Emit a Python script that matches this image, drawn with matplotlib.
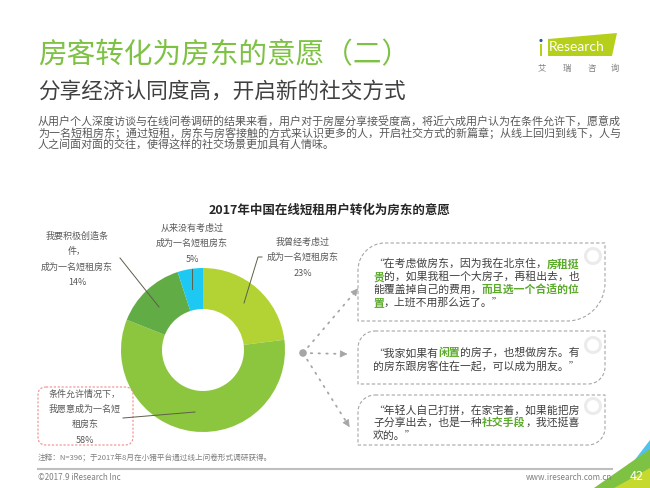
import matplotlib

matplotlib.use("Agg")
import matplotlib.pyplot as plt
from matplotlib.patches import Circle, FancyBboxPatch, PathPatch, Polygon
from matplotlib.path import Path

plt.rcParams["font.family"] = ["Noto Sans CJK SC", "DejaVu Sans"]

W, H = 650, 488

# ---- texts / data
title = "房客转化为房东的意愿（二）"
subtitle = "分享经济认同度高，开启新的社交方式"
intro_lines = [
    "从用户个人深度访谈与在线问卷调研的结果来看，用户对于房屋分享接受度高，将近六成用户认为在条件允许下，愿意成",
    "为一名短租房东；通过短租，房东与房客接触的方式来认识更多的人，开启社交方式的新篇章；从线上回归到线下，人与",
    "人之间面对面的交往，使得这样的社交场景更加具有人情味。",
]
chart_title = "2017年中国在线短租用户转化为房东的意愿"

slice_labels = [
    "我曾经考虑过\n成为一名短租房东",
    "条件允许情况下，\n我愿意成为一名短\n租房东",
    "我要积极创造条\n件，\n成为一名短租房东",
    "从来没有考虑过\n成为一名短租房东",
]
slice_shares = [23, 58, 14, 5]
slice_colors = ["#B3D335", "#8CC63F", "#62AC45", "#1DC8F2"]

# (text, highlighted)
quotes = [
    [
        [("“在考虑做房东，因为我在北京住，", False), ("房租挺", True)],
        [("贵", True), ("的，如果我租一个大房子，再租出去，也", False)],
        [("能覆盖掉自己的费用，", False), ("而且选一个合适的位", True)],
        [("置", True), ("，上班不用那么远了。”", False)],
    ],
    [
        [("“我家如果有", False), ("闲置", True), ("的房子，也想做房东。有", False)],
        [("的房东跟房客住在一起，可以成为朋友。”", False)],
    ],
    [
        [("“年轻人自己打拼，在家宅着，如果能把房", False)],
        [("子分享出去，也是一种", False), ("社交手段", True), ("，我还挺喜", False)],
        [("欢的。”", False)],
    ],
]

note = "注释：N=396；于2017年8月在小猪平台通过线上问卷形式调研获得。"
copyright_txt = "©2017.9 iResearch Inc"
site_txt = "www.iresearch.com.cn"
page_no = "42"

GREEN = "#7DC243"
HI = "#5BAA2C"
TXT = "#404040"
GREY = "#595959"

fig = plt.figure(figsize=(W / 100, H / 100), dpi=100)
bg = fig.add_axes([0, 0, 1, 1])
bg.set_xlim(0, W)
bg.set_ylim(H, 0)
bg.axis("off")
bg.set_zorder(2)

# donut
cx, cy, r = 203, 350, 82
pie_ax = fig.add_axes([(cx - r) / W, 1 - (cy + r) / H, 2 * r / W, 2 * r / H])
pie_ax.set_zorder(1)
pie_ax.pie(
    slice_shares,
    colors=slice_colors,
    startangle=90,
    counterclock=False,
    wedgeprops=dict(width=0.5, linewidth=0),
)
pie_ax.set_xlim(-1, 1)
pie_ax.set_ylim(-1, 1)

# header
bg.text(38, 55, title, fontsize=20.6, color=GREEN, va="center", ha="left")
bg.text(38, 92, subtitle, fontsize=15.6, color=TXT, va="center", ha="left")
for i, line in enumerate(intro_lines):
    bg.text(38, 122 + i * 11, line, fontsize=7.95, color=GREY, va="center", ha="left")

# logo
bg.add_patch(Polygon([(548, 39), (617, 33), (612, 56), (548, 56)], closed=True, color="#B6CF1B", lw=0))
bg.text(549, 47, "Research", fontsize=10, color="white", va="center", ha="left", family="Lato")
bg.add_patch(Circle((541, 40.5), 1.6, color="#2A5CAA", lw=0))
bg.add_patch(Polygon([(539.8, 44), (542.2, 44), (542.2, 56), (539.8, 56)], closed=True, color="#B6CF1B", lw=0))
for x, ch in zip((541.5, 566.5, 591.5, 615), "艾瑞咨询"):
    bg.text(x, 68, ch, fontsize=6, color="#7F7F7F", ha="center", va="center")

# chart title
bg.text(330, 210, chart_title, fontsize=9, fontweight="bold", color="#262626", ha="center", va="center")

# slice labels
label_pos = [(303, 242), (85, 394), (77, 236), (192, 228)]
for (lx, ly), lab, share in zip(label_pos, slice_labels, slice_shares):
    for j, s in enumerate(lab.split("\n") + [f"{share}%"]):
        bg.text(lx, ly + j * 15.5, s, fontsize=6.5, color=GREY, ha="center", va="center")

bg.add_patch(
    FancyBboxPatch(
        (38, 387), 95, 58,
        boxstyle="round,pad=0,rounding_size=8",
        fill=False, ec="#F08C8C", lw=0.8, ls=(0, (2, 1.5)),
    )
)

leaders = [
    [(262, 257), (258, 257), (244, 303)],
    [(123, 418), (195, 412)],
    [(120, 258), (159, 307)],
    [(192, 269), (192, 289)],
]
for pts in leaders:
    xs, ys = zip(*pts)
    bg.plot(xs, ys, color="#5E5E4A", lw=0.7)

# connector
ox, oy = 303, 353
bg.add_patch(Circle((ox, oy), 3.8, color="#A6A6A6", lw=0))
for ex, ey in [(355, 292), (345, 354), (347, 423)]:
    bg.plot([ox, ex], [oy, ey], color="#A6A6A6", lw=1.3, ls=(0, (0.8, 3.5)), dash_capstyle="round")
    bg.annotate(
        "", xy=(ex + (ex - ox) * 0.06, ey + (ey - oy) * 0.06), xytext=(ex, ey),
        arrowprops=dict(arrowstyle="-|>,head_length=0.45,head_width=0.22", color="#A6A6A6", lw=0.6),
    )


def leaf_box(x0, y0, x1, y1, r1, r2):
    k = 0.5523
    verts = [
        (x0 + r1, y0), (x1, y0), (x1, y1 - r2),
        (x1, y1 - r2 + k * r2), (x1 - r2 + k * r2, y1), (x1 - r2, y1),
        (x0, y1), (x0, y0 + r1),
        (x0, y0 + r1 - k * r1), (x0 + r1 - k * r1, y0), (x0 + r1, y0),
    ]
    codes = [
        Path.MOVETO, Path.LINETO, Path.LINETO,
        Path.CURVE4, Path.CURVE4, Path.CURVE4,
        Path.LINETO, Path.LINETO,
        Path.CURVE4, Path.CURVE4, Path.CURVE4,
    ]
    return Path(verts, codes)


boxes = [(358, 243, 605, 321, 27, 38), (358, 331, 605, 384, 17, 17), (358, 395, 605, 445, 17, 17)]
rings = [(593, 256), (593, 345), (593, 406)]
first_y = [264, 353, 410]

for box, ring, y0, lines in zip(boxes, rings, first_y, quotes):
    bg.add_patch(PathPatch(leaf_box(*box), fill=False, ec="#A6A6A6", lw=0.8, ls=(0, (3, 2))))
    bg.add_patch(Circle(ring, 7.5, fill=False, ec="#EBEBEB", lw=2.2))
    for i, segs in enumerate(lines):
        prev = None
        for s, hi in segs:
            kw = dict(fontsize=7.8, color=HI if hi else TXT, fontweight="bold" if hi else "normal")
            if prev is None:
                prev = bg.text(373, y0 + i * 13, s, ha="left", va="center", **kw)
            else:
                prev = bg.annotate(s, xy=(1, 0), xycoords=prev, ha="left", va="bottom", **kw)

# footer
bg.text(38, 458, note, fontsize=5.5, color="#7F7F7F", ha="left", va="center")
bg.plot([38, 612], [469, 469], color="#BFBFBF", lw=1.5)
bg.text(38, 478, copyright_txt, fontsize=5.8, color="#7F7F7F", ha="left", va="center")
bg.text(612, 478, site_txt, fontsize=5.8, color="#7F7F7F", ha="right", va="center")

bg.add_patch(Polygon([(624, 474), (650, 440), (650, 488), (624, 488)], closed=True, color="#4FC3EE", lw=0))
bg.add_patch(Polygon([(594, 488), (650, 449), (650, 488)], closed=True, color="#7DC243", lw=0))
bg.add_patch(Polygon([(614, 488), (650, 468), (650, 488)], closed=True, color="#C6D92E", lw=0))
bg.text(637, 477, page_no, fontsize=9, color="white", ha="center", va="center")

fig.savefig("out.png", dpi=100, facecolor="white")
